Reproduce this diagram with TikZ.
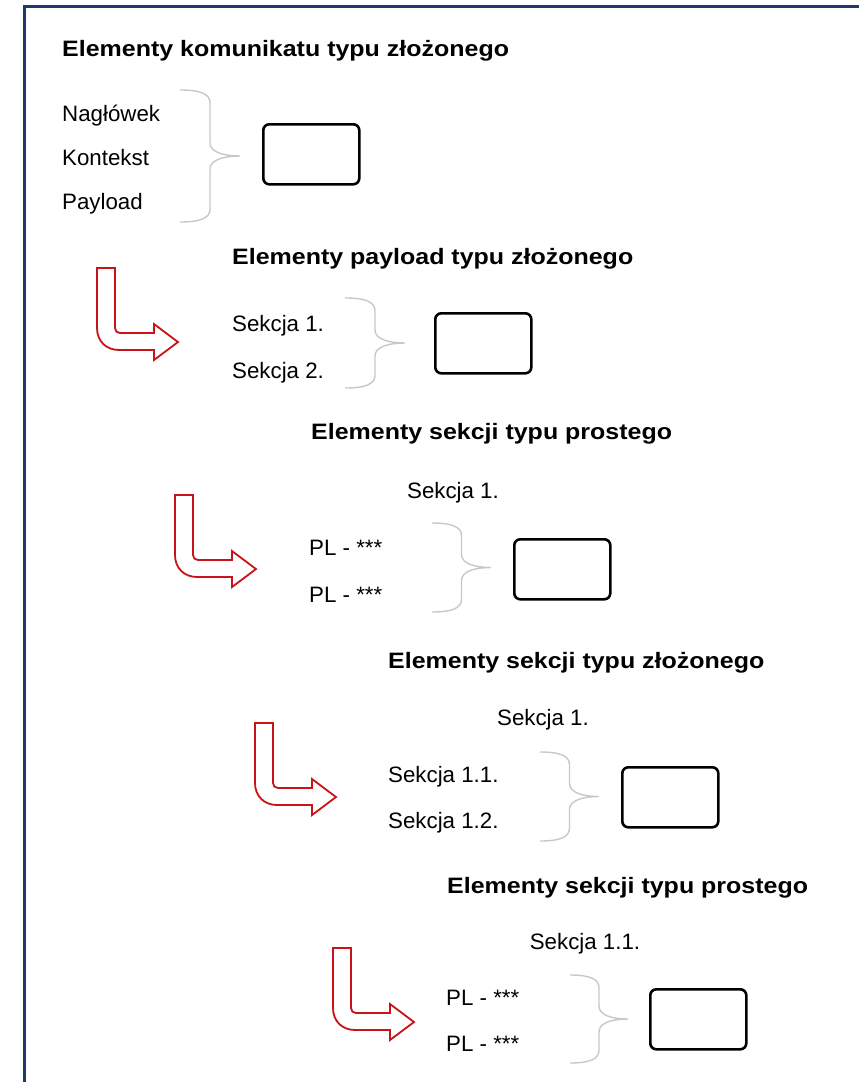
\documentclass[tikz,border=0pt]{standalone}
\usepackage{fontspec}
\setmainfont{Liberation Sans}
\newfontfamily\titlefont[FakeStretch=1.12]{Liberation Sans}
\definecolor{framecol}{RGB}{28,58,108}
\definecolor{arrred}{RGB}{200,20,24}
\definecolor{bracecol}{RGB}{200,200,200}
\tikzset{
  txt/.style={anchor=base west,inner sep=0pt,font=\fontsize{22.3}{25}\selectfont},
  ctxt/.style={anchor=base,inner sep=0pt,font=\fontsize{22.3}{25}\selectfont},
  ttl/.style={anchor=base west,inner sep=0pt,font=\titlefont\bfseries\fontsize{22.3}{25}\selectfont},
  boxnode/.style={draw=black,line width=2.6pt,rounded corners=6pt,minimum width=96pt,minimum height=60pt,inner sep=0pt,anchor=north west},
  bracestyle/.style={draw=bracecol,line width=1.4pt},
  arrowstyle/.style={draw=arrred,line width=1.8pt,fill=white,line join=miter},
  pics/larrow/.style={code={
    \draw[arrowstyle] (0,0) -- (18,0) -- (18,60) .. controls (18,63) and (20,65) .. (23,65)
      -- (57,65) -- (57,56) -- (81,74) -- (57,92) -- (57,82) -- (22,82)
      .. controls (9,82) and (0,73) .. (0,60) -- cycle;
  }}
}
\newcommand\mybrace[4]{%
  \pgfmathsetmacro\bxm{#1+#4/2}%
  \pgfmathsetmacro\bxt{#1+#4}%
  \pgfmathsetmacro\bym{(#2+#3)/2}%
  \draw[bracestyle] (#1,#2) .. controls (\bxm-9,#2) and (\bxm,#2+4) .. (\bxm,#2+13)
    -- (\bxm,\bym-13) .. controls (\bxm,\bym-3) and (\bxt-14,\bym) .. (\bxt,\bym)
    .. controls (\bxt-14,\bym) and (\bxm,\bym+3) .. (\bxm,\bym+13)
    -- (\bxm,#3-13) .. controls (\bxm,#3-4) and (\bxm-9,#3) .. (#1,#3);}
\begin{document}
\begin{tikzpicture}[x=1pt,y=-1pt]
\useasboundingbox (0,0) rectangle (859,1082);
\fill[white] (0,0) rectangle (859,1082);
% frame (left and top sides)
\draw[framecol,line width=3pt] (24,1090) -- (24,6) -- (870,6);

% block 1
\node[ttl] (t1) at (62,56.5) {Elementy komunikatu typu złożonego};
\node[txt] (n1) at (62,121) {Nagłówek};
\node[txt] (n2) at (62,165) {Kontekst};
\node[txt] (n3) at (62,209) {Payload};
\mybrace{180}{90}{222}{60}
\node[boxnode] (b1) at (262,123) {};

% block 2
\node[ttl] (t2) at (232,264) {Elementy payload typu złożonego};
\pic at (97,268) {larrow};
\node[txt] (s21) at (232,331) {Sekcja 1.};
\node[txt] (s22) at (232,378) {Sekcja 2.};
\mybrace{345}{298}{388}{60}
\node[boxnode] (b2) at (434,312) {};

% block 3
\node[ttl] (t3) at (311,439) {Elementy sekcji typu prostego};
\node[ctxt] (h3) at (453,498) {Sekcja 1.};
\pic at (175,495) {larrow};
\node[txt] (p31) at (309,555) {PL - ***};
\node[txt] (p32) at (309,602) {PL - ***};
\mybrace{432}{523}{612}{59}
\node[boxnode] (b3) at (513,538) {};

% block 4
\node[ttl] (t4) at (388,668) {Elementy sekcji typu złożonego};
\node[ctxt] (h4) at (543,725) {Sekcja 1.};
\pic at (255,723) {larrow};
\node[txt] (s41) at (388,782) {Sekcja 1.1.};
\node[txt] (s42) at (388,828) {Sekcja 1.2.};
\mybrace{540}{752}{841}{59}
\node[boxnode] (b4) at (621,766) {};

% block 5
\node[ttl] (t5) at (447,893) {Elementy sekcji typu prostego};
\node[ctxt] (h5) at (585,949) {Sekcja 1.1.};
\pic at (333,948) {larrow};
\node[txt] (p51) at (446,1005) {PL - ***};
\node[txt] (p52) at (446,1051) {PL - ***};
\mybrace{570}{975}{1063}{58}
\node[boxnode] (b5) at (649,988) {};
\end{tikzpicture}
\end{document}
